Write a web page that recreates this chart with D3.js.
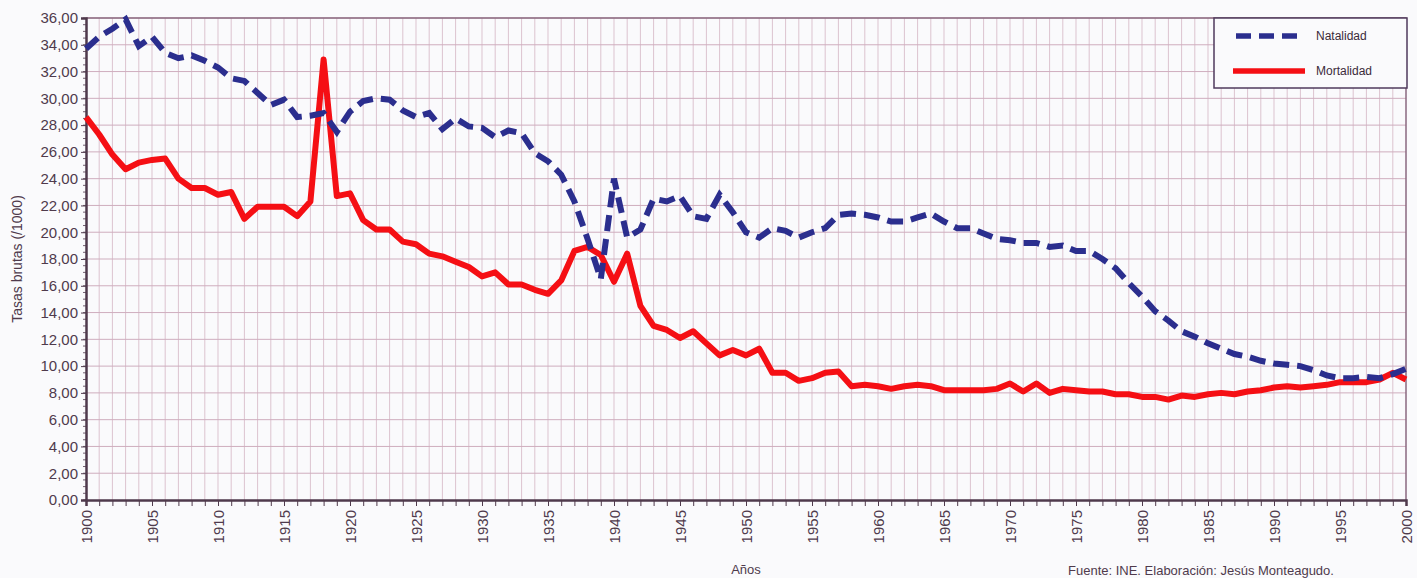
<!DOCTYPE html>
<html>
<head>
<meta charset="utf-8">
<script src="https://cdn.jsdelivr.net/npm/d3@7"></script>
<style>
  body { margin: 0; background: #fafafc; }
  svg { font-family: Arial, "Liberation Sans", sans-serif; }
</style>
</head>
<body>
<div id="chart"></div>
<script>
// data
const years = d3.range(1900, 2001);
const natalidad = [
  33.7, 34.6, 35.2, 35.9, 33.9, 34.6, 33.4, 33.0, 33.2, 32.8,
  32.3, 31.5, 31.3, 30.4, 29.5, 29.9, 28.6, 28.7, 28.9, 27.5,
  29.0, 29.8, 30.0, 29.9, 29.1, 28.6, 28.9, 27.7, 28.5, 27.9,
  27.8, 27.1, 27.6, 27.4, 25.9, 25.3, 24.3, 22.3, 19.5, 16.5,
  24.0, 19.6, 20.2, 22.5, 22.3, 22.7, 21.2, 21.0, 22.8, 21.5,
  20.0, 19.6, 20.3, 20.1, 19.6, 20.0, 20.3, 21.3, 21.4, 21.3,
  21.1, 20.8, 20.8, 21.1, 21.4, 20.8, 20.3, 20.3, 19.9, 19.5,
  19.4, 19.2, 19.2, 18.9, 19.0, 18.6, 18.6, 18.0, 17.3, 16.2,
  15.2, 14.1, 13.4, 12.6, 12.2, 11.7, 11.3, 10.9, 10.7, 10.4,
  10.2, 10.1, 10.0, 9.7, 9.3, 9.1, 9.1, 9.2, 9.1, 9.4,
  9.8
];
const mortalidad = [
  28.6, 27.3, 25.8, 24.7, 25.2, 25.4, 25.5, 24.0, 23.3, 23.3,
  22.8, 23.0, 21.0, 21.9, 21.9, 21.9, 21.2, 22.3, 32.9, 22.7,
  22.9, 20.9, 20.2, 20.2, 19.3, 19.1, 18.4, 18.2, 17.8, 17.4,
  16.7, 17.0, 16.1, 16.1, 15.7, 15.4, 16.4, 18.6, 18.9, 18.3,
  16.3, 18.4, 14.5, 13.0, 12.7, 12.1, 12.6, 11.7, 10.8, 11.2,
  10.8, 11.3, 9.5, 9.5, 8.9, 9.1, 9.5, 9.6, 8.5, 8.6,
  8.5, 8.3, 8.5, 8.6, 8.5, 8.2, 8.2, 8.2, 8.2, 8.3,
  8.7, 8.1, 8.7, 8.0, 8.3, 8.2, 8.1, 8.1, 7.9, 7.9,
  7.7, 7.7, 7.5, 7.8, 7.7, 7.9, 8.0, 7.9, 8.1, 8.2,
  8.4, 8.5, 8.4, 8.5, 8.6, 8.8, 8.8, 8.8, 9.0, 9.5,
  9.0
];
const seriesNames = ["Natalidad", "Mortalidad"];
const yTicks = d3.range(0, 37, 2);
const xLabelYears = d3.range(1900, 2001, 5);

let width = 1417,
    height = 578;
let margin = {top: 18, right: 11, bottom: 78, left: 86};

let locale = d3.formatLocale({decimal: ",", thousands: ".", grouping: [3], currency: ["", "€"]});
let fmt = locale.format(".2f");

let x = d3.scaleLinear().domain([1900, 2000]).range([margin.left, width - margin.right]);
let y = d3.scaleLinear().domain([0, 36]).range([height - margin.bottom, margin.top]);

let svg = d3.select("#chart").append("svg")
    .attr("width", width)
    .attr("height", height);

svg.append("rect")
    .attr("width", width).attr("height", height)
    .attr("fill", "#fafafc");

// grid
let grid = svg.append("g").attr("stroke", "#dcc3cf").attr("stroke-width", 1);
grid.selectAll(".vg")
    .data(years.slice(1, -1))
    .enter().append("line")
    .attr("x1", d => x(d)).attr("x2", d => x(d))
    .attr("y1", y(36)).attr("y2", y(0));
grid.selectAll(".hg")
    .data(yTicks.slice(1))
    .enter().append("line")
    .attr("x1", x(1900)).attr("x2", x(2000))
    .attr("y1", d => y(d)).attr("y2", d => y(d))
    .attr("stroke", "#cfaebe");

// plot border (top / right)
svg.append("path")
    .attr("d", `M${x(1900)},${y(36)}H${x(2000)}V${y(0)}`)
    .attr("fill", "none")
    .attr("stroke", "#8a6a80")
    .attr("stroke-width", 1.5);

// axes
let axisColor = "#4f3a4c";
let yAxis = svg.append("g")
    .attr("transform", `translate(${margin.left},0)`)
    .call(d3.axisLeft(y).tickValues(yTicks).tickFormat(fmt).tickSize(5).tickPadding(3));
// minor ticks on the y axis
svg.append("g").selectAll("line")
    .data(d3.range(0, 36.01, 0.5))
    .enter().append("line")
    .attr("x1", margin.left - 3).attr("x2", margin.left)
    .attr("y1", d => y(d)).attr("y2", d => y(d))
    .attr("stroke", axisColor).attr("stroke-width", 0.8);

let xAxis = svg.append("g")
    .attr("transform", `translate(0,${y(0)})`)
    .call(d3.axisBottom(x).tickValues(years).tickFormat("").tickSize(6));

[yAxis, xAxis].forEach(function (g) {
    g.select(".domain").attr("stroke", axisColor).attr("stroke-width", 2.5);
    g.selectAll(".tick line").attr("stroke", axisColor);
    g.selectAll("text").attr("fill", axisColor).style("font-size", "15px");
});

svg.append("g").selectAll("text")
    .data(xLabelYears)
    .enter().append("text")
    .attr("transform", d => `translate(${x(d) + 6},${y(0) + 10}) rotate(-90)`)
    .attr("text-anchor", "end")
    .attr("fill", axisColor)
    .style("font-size", "15px")
    .text(d => d);

// titles
svg.append("text")
    .attr("transform", `translate(22,${(y(0) + y(36)) / 2}) rotate(-90)`)
    .attr("text-anchor", "middle")
    .attr("fill", axisColor)
    .style("font-size", "14px")
    .text("Tasas brutas (/1000)");

svg.append("text")
    .attr("x", x(1950))
    .attr("y", 574)
    .attr("text-anchor", "middle")
    .attr("fill", axisColor)
    .style("font-size", "13px")
    .text("Años");

svg.append("text")
    .attr("x", 1068)
    .attr("y", 575)
    .attr("fill", axisColor)
    .style("font-size", "13px")
    .text("Fuente: INE. Elaboración: Jesús Monteagudo.");

// lines
let line = d3.line()
    .x((d, i) => x(years[i]))
    .y(d => y(d));

svg.append("path")
    .datum(mortalidad)
    .attr("fill", "none")
    .attr("stroke", "#f50f14")
    .attr("stroke-width", 6)
    .attr("stroke-linejoin", "round")
    .attr("d", line);

svg.append("path")
    .datum(natalidad)
    .attr("fill", "none")
    .attr("stroke", "#2b2e8e")
    .attr("stroke-width", 6)
    .attr("stroke-dasharray", "16,8")
    .attr("d", line);

// legend
let legend = svg.append("g").attr("transform", "translate(1214,18)");
legend.append("rect")
    .attr("width", 193).attr("height", 70)
    .attr("fill", "#fafafc")
    .attr("stroke", "#4f3a5c")
    .attr("stroke-width", 1.5);
legend.append("line")
    .attr("x1", 22).attr("x2", 90).attr("y1", 18).attr("y2", 18)
    .attr("stroke", "#2b2e8e").attr("stroke-width", 5.5)
    .attr("stroke-dasharray", "15,8");
legend.append("line")
    .attr("x1", 19).attr("x2", 91).attr("y1", 53).attr("y2", 53)
    .attr("stroke", "#f50f14").attr("stroke-width", 5.5);
legend.selectAll(".lt")
    .data(seriesNames)
    .enter().append("text")
    .attr("x", 102)
    .attr("y", (d, i) => 22 + i * 35)
    .attr("fill", "#3a2a3a")
    .style("font-size", "12px")
    .text(d => d);
</script>
</body>
</html>
